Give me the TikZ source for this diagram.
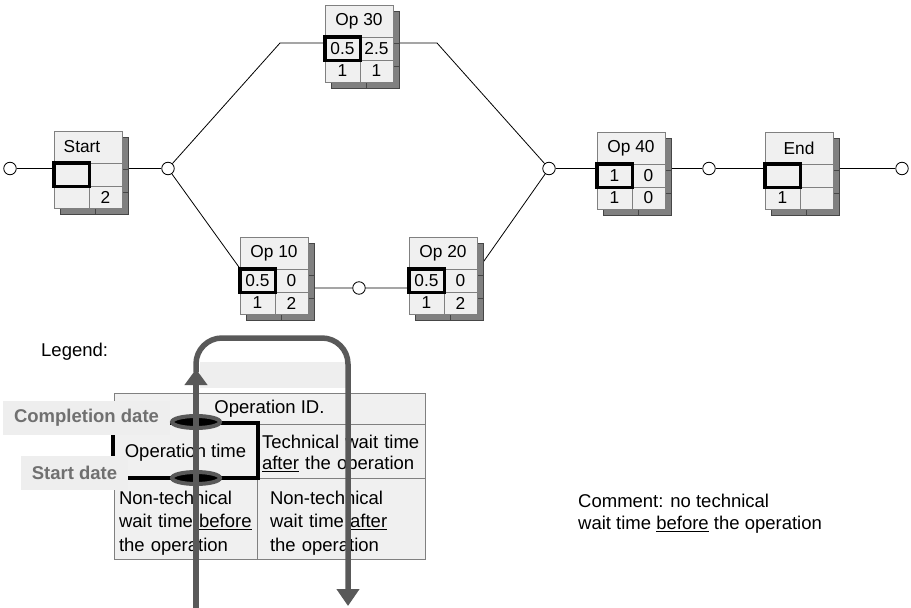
\documentclass[tikz,border=0pt]{standalone}
\usepackage{fontspec}
\setmainfont{Liberation Sans}
\usepackage{xcolor}
\usetikzlibrary{arrows.meta}
\pgfdeclarelayer{bg}
\pgfsetlayers{bg,main}

\definecolor{cellfill}{RGB}{240,240,240}
\definecolor{cellline}{RGB}{128,128,128}
\definecolor{shadefill}{RGB}{128,128,128}
\definecolor{shadeline}{RGB}{70,70,70}
\definecolor{loopgray}{RGB}{89,89,89}
\definecolor{tagtext}{RGB}{112,112,112}
\definecolor{tagfill}{RGB}{238,238,238}

\tikzset{
  cell/.style={draw=cellline, fill=cellfill, line width=0.8, inner sep=0pt,
    font=\fontsize{17.3}{20}\selectfont},
  shade/.style={draw=shadeline, fill=shadefill, line width=0.8},
  hilite/.style={draw=black, line width=3.8},
  joint/.style={circle, draw=black, fill=white, line width=0.8, minimum size=12.5, inner sep=0pt},
  wire/.style={draw=black, line width=0.8},
  lcell/.style={draw=cellline, fill=cellfill, line width=0.8, inner sep=0pt,
    font=\fontsize{18.5}{23.5}\selectfont},
  plain/.style={inner sep=0pt, font=\fontsize{18.5}{22}\selectfont},
  datetag/.style={fill=tagfill, text=tagtext, inner sep=0pt, minimum height=34,
    font=\fontsize{18.5}{22}\selectfont\bfseries},
  loopline/.style={draw=loopgray, line width=5.5},
  ring/.style={draw=loopgray, fill=black, line width=4},
}

% operation box: name, x, y (top left), title, cells a b c d
\newcommand{\opbox}[8]{%
  \begin{scope}[shift={(#2,#3)}]
    \draw[shade] (6,6) rectangle (74,83);
    \draw[shade] (6,38) -- (74,38) (6,61) -- (74,61) (41,38) -- (41,83);
    \node[cell, minimum width=68, minimum height=32] (#1) at (34,16) {#4};
    \node[cell, minimum width=35, minimum height=23] (#1-a) at (17.5,43.5) {#5};
    \node[cell, minimum width=33, minimum height=23] (#1-b) at (51.5,43.5) {#6};
    \node[cell, minimum width=35, minimum height=22] (#1-c) at (17.5,66) {#7};
    \node[cell, minimum width=33, minimum height=22] (#1-d) at (51.5,66) {#8};
    \draw[hilite] (#1-a.north west) rectangle (#1-a.south east);
  \end{scope}}

\begin{document}
\begin{tikzpicture}[x=1pt,y=1pt,yscale=-1,xscale=1]
\useasboundingbox (0,0) rectangle (911,608);

%Operation boxes
\opbox{start}{54}{131}{\hspace*{-12pt}Start}{}{}{}{2}
\opbox{op30}{325}{5}{Op 30}{0.5}{2.5}{1}{1}
\opbox{op10}{240}{237}{Op 10}{0.5}{0}{1}{2}
\opbox{op20}{409}{237}{Op 20}{0.5}{0}{1}{2}
\opbox{op40}{597}{132}{Op 40}{1}{0}{1}{0}
\opbox{end}{765}{132}{End}{}{}{1}{}

%Joints
\node[joint] (c0) at (10,168.5) {};
\node[joint] (c1) at (168,168.5) {};
\node[joint] (c2) at (549,168.5) {};
\node[joint] (c3) at (359,288) {};
\node[joint] (c4) at (709,168.5) {};
\node[joint] (c5) at (902,168.5) {};
\coordinate (k1) at (280,43);
\coordinate (k2) at (437,43);
\coordinate (k3) at (254,288);
\coordinate (k4) at (465,288);

%Straight Lines (behind the boxes)
\begin{pgfonlayer}{bg}
  \draw[wire] (c0) -- (c1);
  \draw[wire] (c1) -- (k1) -- (k2) -- (c2);
  \draw[wire] (c1) -- (k3) -- (c3) -- (k4) -- (c2);
  \draw[wire] (c2) -- (c4) -- (c5);
\end{pgfonlayer}

% Text Node
\node[plain, anchor=west] (legend) at (41,352) {Legend:};

%Legend table
\node[lcell, minimum width=311, minimum height=31] (lid) at (269.5,408.5) {Operation ID.};
\node[lcell, minimum width=143, minimum height=54, text height=16pt] (ltime) at (185.5,451) {Operation time};
\node[lcell, minimum width=168, minimum height=54, text width=158, align=left, text height=19.5pt,
  font=\fontsize{18.5}{21.5}\selectfont] (ltech) at (341,451)
  {Technical wait time\\\underline{after} the operation};
\node[lcell, minimum width=143, minimum height=81, text width=133, align=left, text height=22pt]
  (lbef) at (185.5,518.5)
  {Non-technical\\wait time \underline{before}\\the operation};
\node[lcell, minimum width=168, minimum height=81, text width=142, align=left, text height=22pt]
  (laft) at (341,518.5)
  {Non-technical\\wait time \underline{after}\\the operation};

%Operation time frame
\draw[hilite, line width=4] (113,423) rectangle (258,478);

% Text Node
\node[datetag, minimum width=167] (compl) at (86.5,418) {Completion date};
\node[datetag, minimum width=107] (sdate) at (74.5,473) {Start date};

%Rings
\draw[ring] (196,422) ellipse [x radius=24, y radius=6];
\draw[ring] (196,478) ellipse [x radius=24, y radius=6];

%Loop
\fill[tagfill] (200,362) rectangle (346,388);
\draw[loopline, -{Triangle[width=22pt,length=16pt]}] (196,608) -- (196,369);
\draw[loopline, rounded corners=26, -{Triangle[width=22pt,length=17pt]}]
  (196,372) -- (196,338) -- (348,338) -- (348,606);

% Text Node
\node[plain, anchor=west, align=left] (comment) at (578,514)
  {Comment: no technical\\wait time \underline{before} the operation};
\end{tikzpicture}
\end{document}
